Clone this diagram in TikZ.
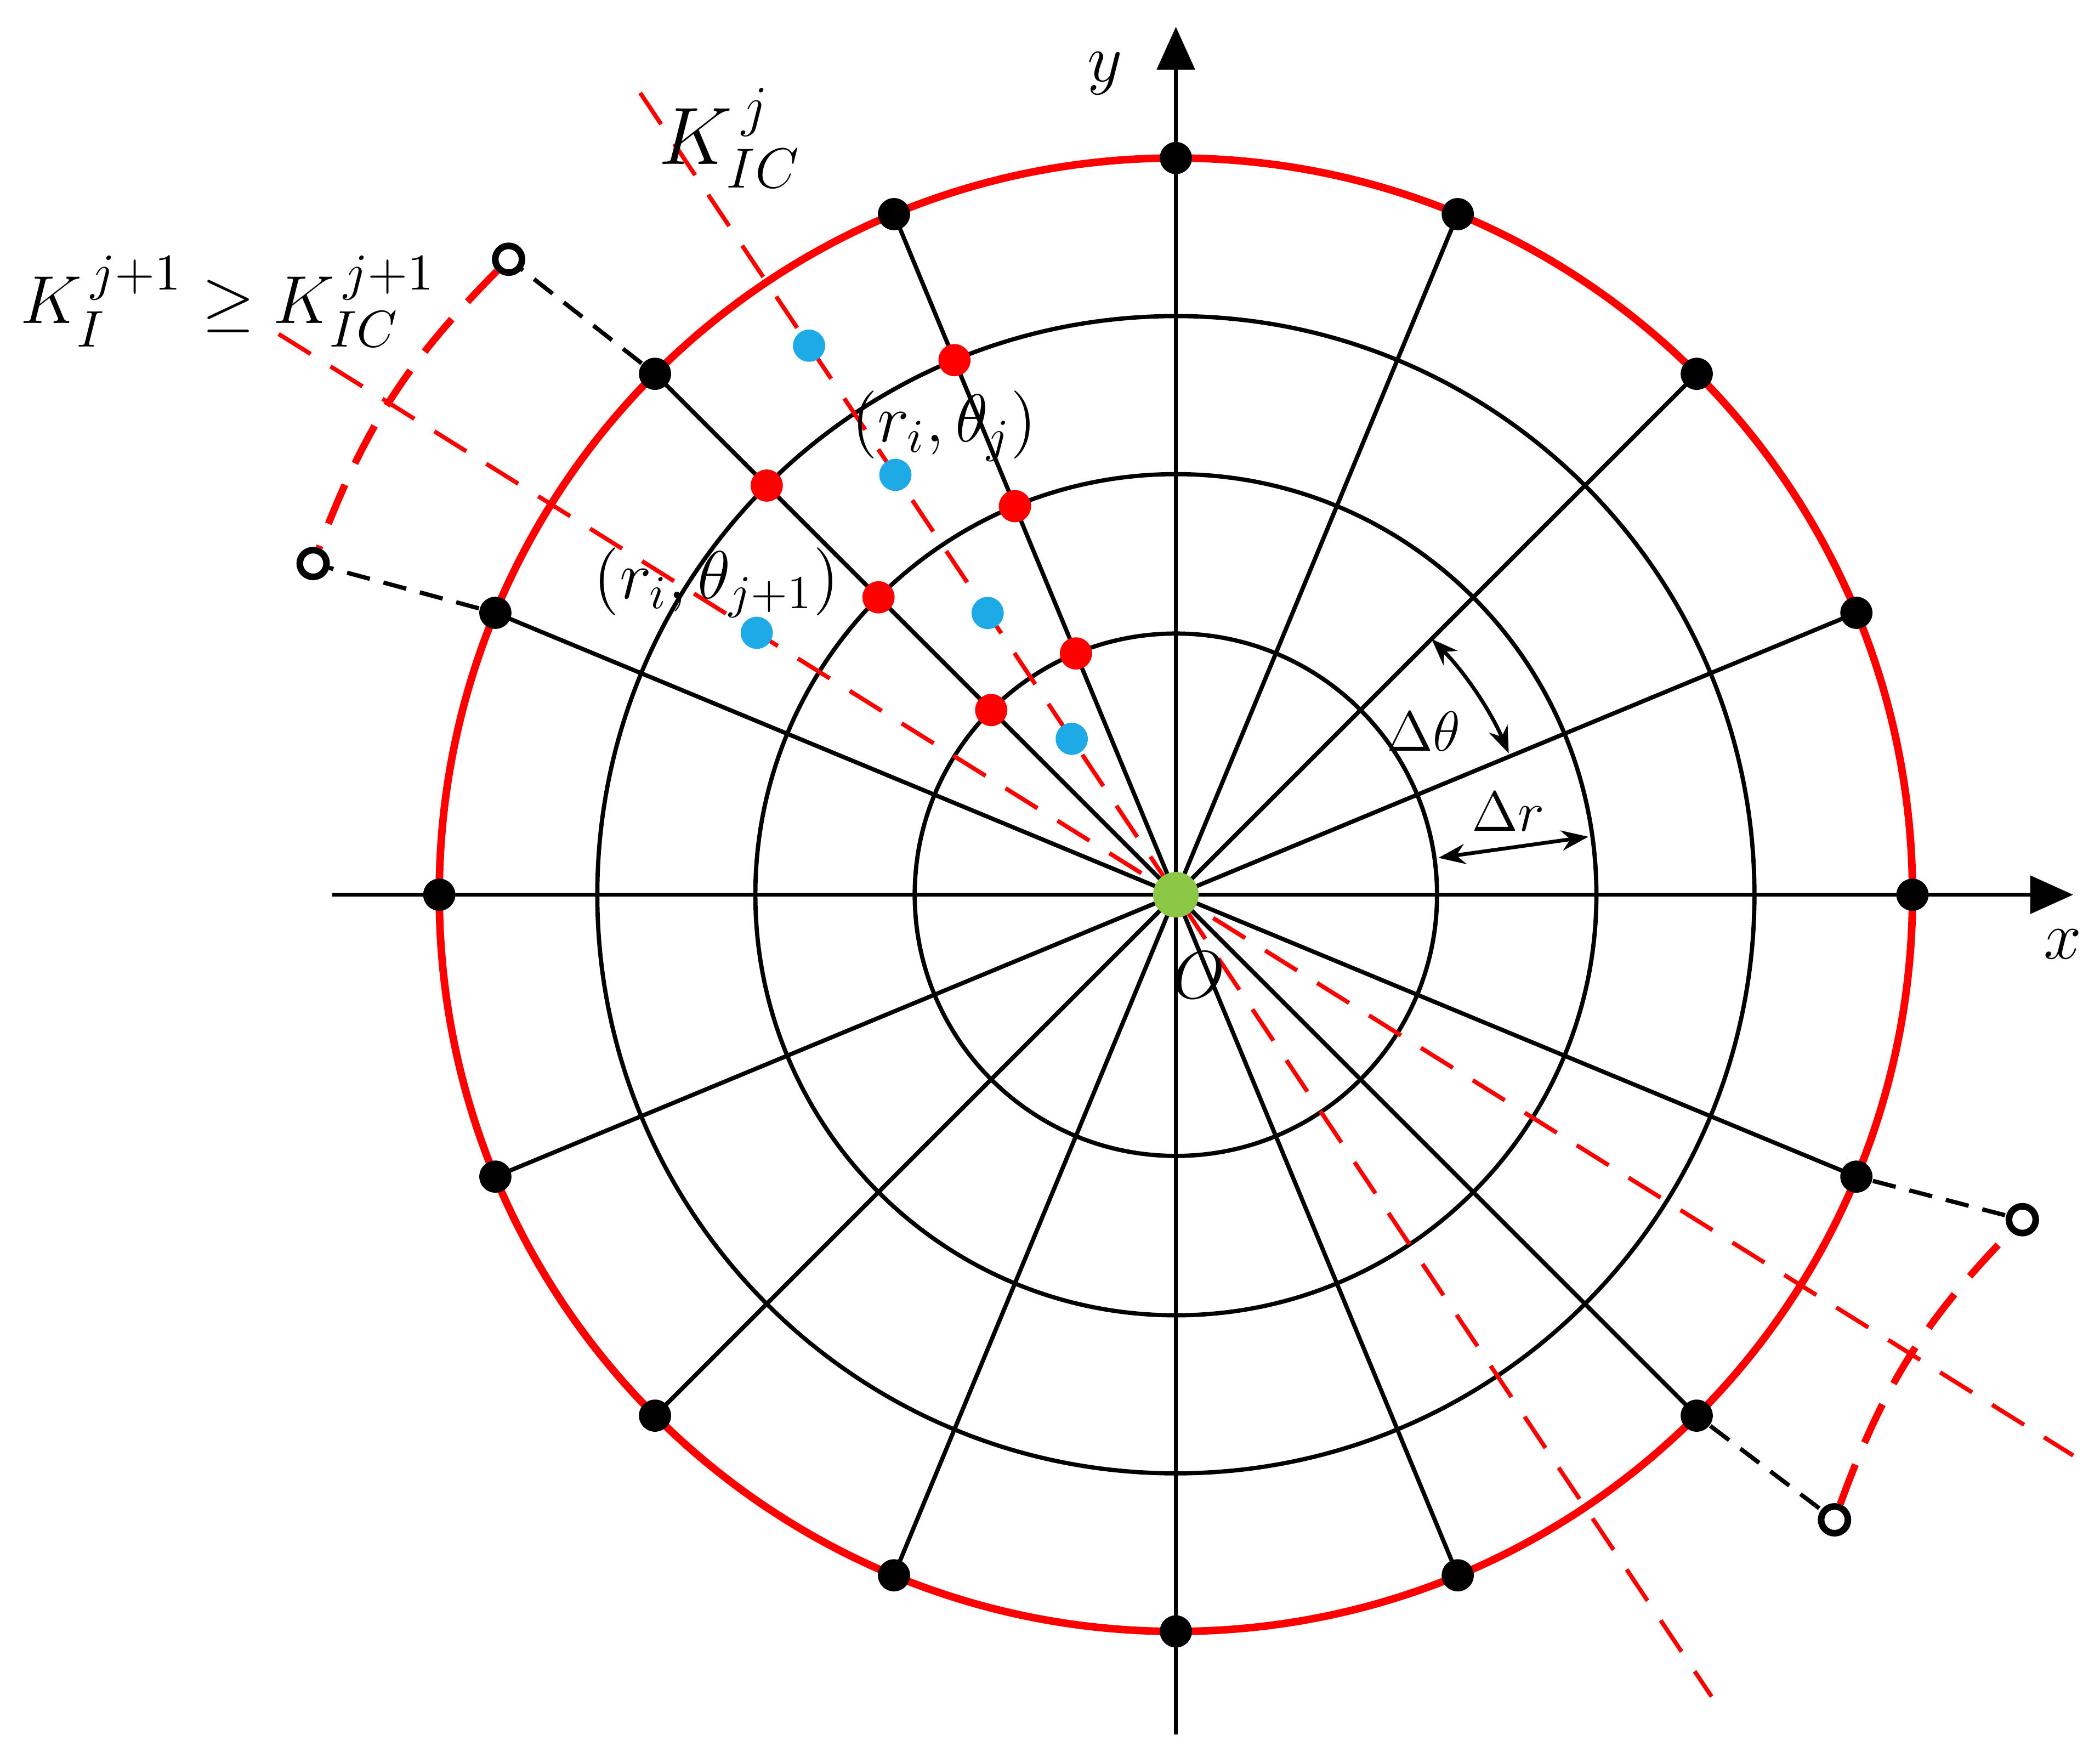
\documentclass[tikz,border=0pt]{standalone}
\usepackage{fontspec}
\setmainfont{Liberation Serif}
\usepackage{amssymb}
\usetikzlibrary{arrows.meta}
\definecolor{ogreen}{RGB}{140,200,70}
\definecolor{bblue}{RGB}{30,170,230}
\begin{document}
\begin{tikzpicture}[x=0.01cm,y=0.01cm,
  blk/.style={line width=0.9pt,black},
  rdash/.style={red,line width=0.9pt,dash pattern=on 8pt off 5pt},
  kdot/.style={circle,fill=black,inner sep=0pt,minimum size=0.24cm},
  rdot/.style={circle,fill=red,inner sep=0pt,minimum size=0.24cm},
  bdot/.style={circle,fill=bblue,inner sep=0pt,minimum size=0.24cm},
  odot/.style={circle,draw=black,line width=1.4pt,fill=white,inner sep=0pt,minimum size=0.2cm},
  lab/.style={font=\fontsize{17}{19}\selectfont},
  klab/.style={font=\fontsize{15.5}{18}\selectfont},
  slab/.style={font=\fontsize{14}{16}\selectfont},
  dlab/.style={font=\fontsize{12.5}{14}\selectfont}]
\useasboundingbox (-878,-648) rectangle (690,668);
% circles
\foreach \r in {195,314,432} \draw[blk] (0,0) circle (\r);
% spokes
\foreach \i in {1,...,15} \draw[blk] (0,0) -- (\i*22.5:550);
% axes
\draw[blk,-{Triangle[length=0.32cm,width=0.28cm]}] (-630,0) coordinate (xl) -- (670,0) coordinate (xr);
\draw[blk,-{Triangle[length=0.32cm,width=0.28cm]}] (0,-627) coordinate (yb) -- (0,648) coordinate (yt);
% red circle
\draw[red,line width=1.6pt] (0,0) circle (550);
% red dashed rays
\draw[rdash] (123.75:720) coordinate (a1) -- (-56.25:720) coordinate (a2);
\draw[rdash] (148:790) coordinate (b1) -- (-32:790) coordinate (b2);
% outer dots
\foreach \i in {0,...,15} \node[kdot] (o\i) at (\i*22.5:550) {};
% extension dashed
\node[odot] (e1) at (136.4:688) {};
\node[odot] (e2) at (159:690) {};
\node[odot] (e3) at (-43.5:678) {};
\node[odot] (e4) at (-21:677) {};
\draw[blk,dash pattern=on 5pt off 3pt] (o6) -- (e1);
\draw[blk,dash pattern=on 5pt off 3pt] (o7) -- (e2);
\draw[blk,dash pattern=on 5pt off 3pt] (o14) -- (e3);
\draw[blk,dash pattern=on 5pt off 3pt] (o15) -- (e4);
\draw[red,line width=1.5pt,dash pattern=on 9pt off 5pt] (e1) to[bend right=12] (e2);
\draw[red,line width=1.5pt,dash pattern=on 9pt off 5pt] (e3) to[bend left=12] (e4);
% red dots
\foreach \a in {112.5,135} \foreach \r in {195,314,432} \node[rdot] at (\a:\r) {};
% blue dots
\foreach \r in {140,253,377,493} \node[bdot] at (123.75:\r) {};
\node[bdot] at (148:369) {};
% origin
\node[circle,fill=ogreen,inner sep=0pt,minimum size=0.34cm] (O) at (0,0) {};
% delta theta
\draw[line width=0.8pt,{Stealth[length=0.2cm]}-{Stealth[length=0.2cm]}] (45:270) arc (45:23:270);
\node[dlab] at (185,122) {$\Delta\theta$};
\draw[line width=0.8pt,{Stealth[length=0.2cm]}-{Stealth[length=0.2cm]}] (8:198) -- (8:311);
\node[dlab] at (248,62) {$\Delta r$};
% labels
\node[slab] at (-53,613) {$y$};
\node[slab] at (662,-37) {$x$};
\node[slab] at (17,-60) {$O$};
\node[lab] at (-333,565) {$K_{IC}^{\,j}$};
\node[klab,anchor=west] at (-875,443) {$K_{I}^{\,j+1}\geq K_{IC}^{\,j+1}$};
\node[slab] at (-173,350) {$(r_i,\theta_j)$};
\node[slab] at (-343,233) {$(r_i,\theta_{j+1})$};
\end{tikzpicture}
\end{document}
